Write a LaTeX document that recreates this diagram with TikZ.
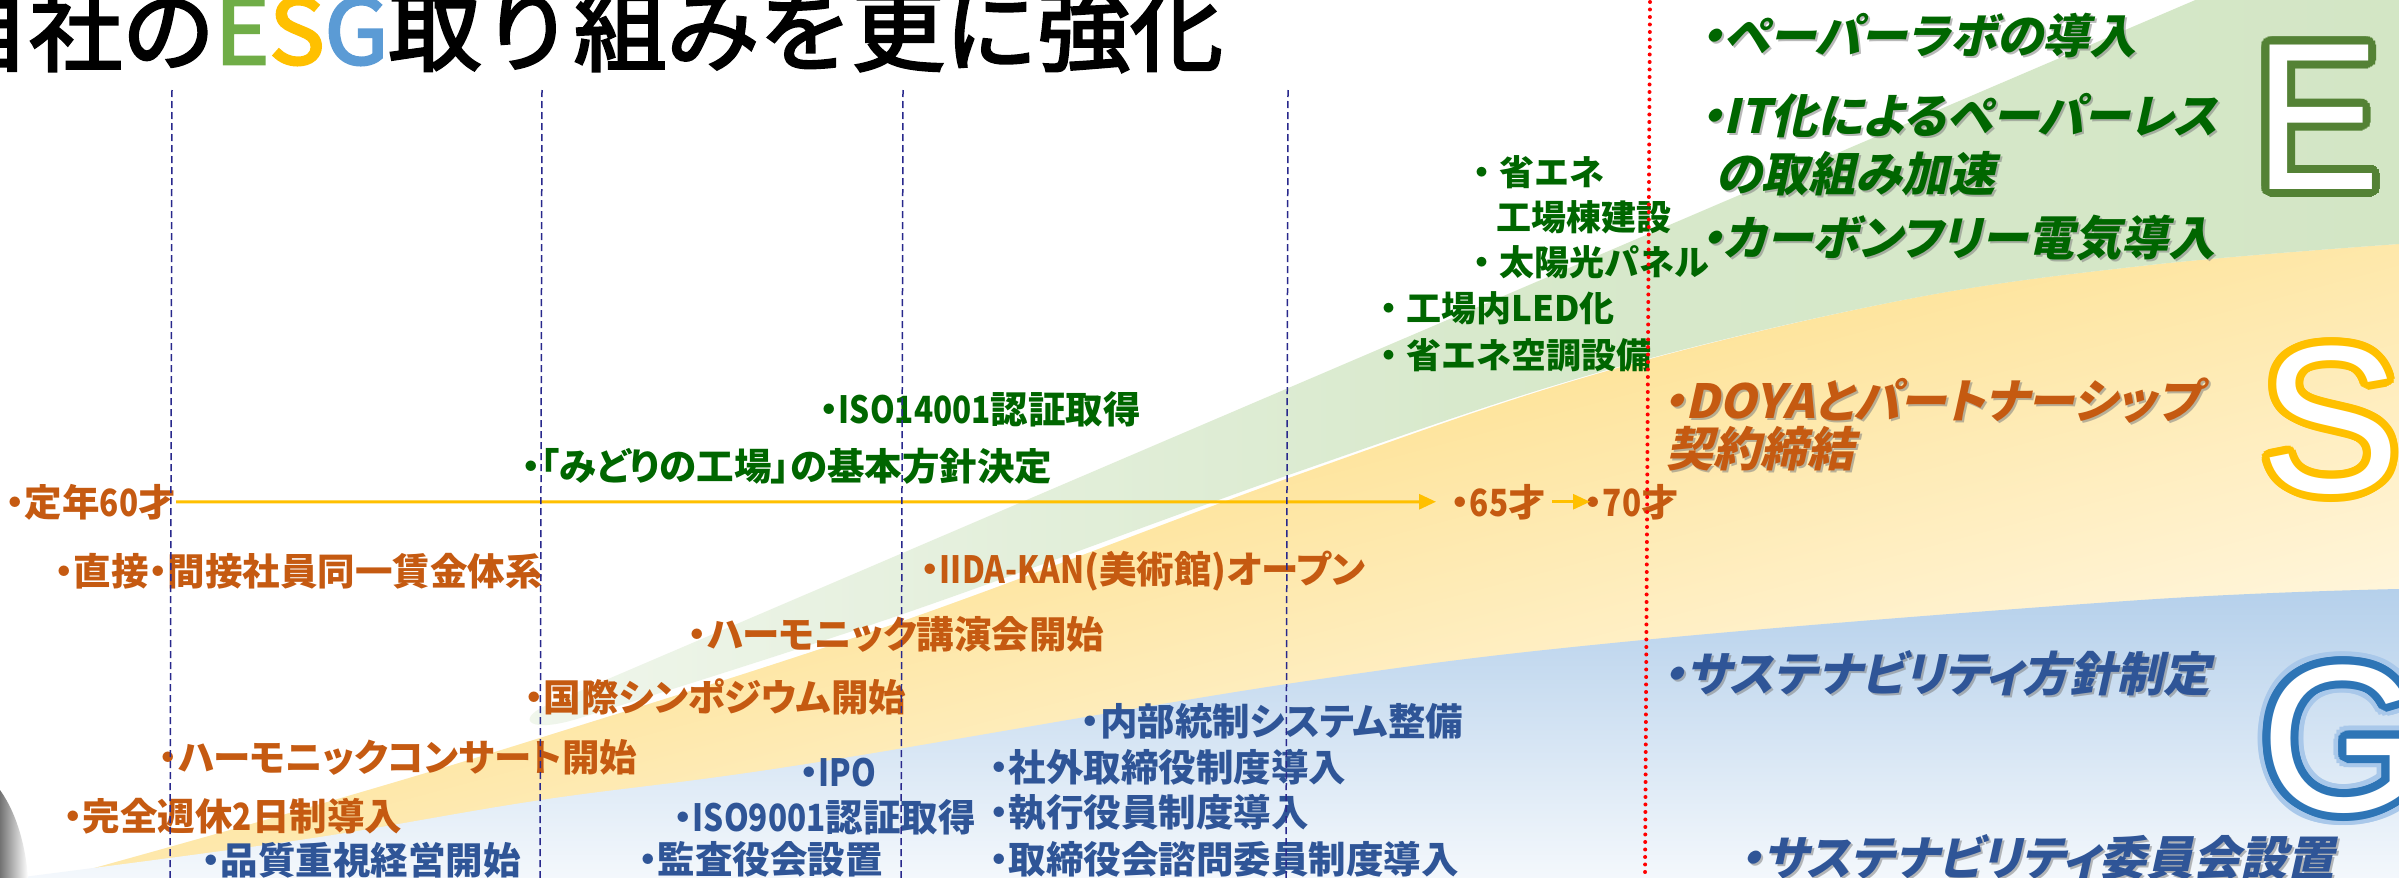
\documentclass[tikz,border=0pt]{standalone}
\usepackage{fontspec}
\setmainfont{Noto Sans CJK JP}
\newfontfamily\bodyfont{Noto Sans CJK JP}[RawFeature=+palt]
\newfontfamily\latfont{Noto Sans CJK JP}[FakeStretch=0.84]
\newfontfamily\clusterfont{Noto Sans CJK JP}
\newfontfamily\italfont{Noto Sans CJK JP}[FakeSlant=0.22,RawFeature=+palt]
\newfontfamily\titlefont{Noto Sans CJK JP}[FakeStretch=1.03,FakeBold=3]
\newfontfamily\letterfont{Liberation Sans}
\newfontfamily\letterEfont{Liberation Sans}[FakeStretch=0.9]
\newcommand\narrowlat[1]{{\latfont #1}}
\usetikzlibrary{arrows.meta}
\definecolor{orangeT}{HTML}{C55A11}
\definecolor{blueT}{HTML}{2F5597}
\definecolor{greenT}{HTML}{006600}
\definecolor{tE}{HTML}{70AD47}
\definecolor{tS}{HTML}{FFC000}
\definecolor{tG}{HTML}{5B9BD5}
\definecolor{ringE}{HTML}{548235}
\definecolor{ringS}{HTML}{FFC000}
\definecolor{ringG}{HTML}{2E75B6}
\definecolor{glowG}{HTML}{A9C8EA}
\definecolor{navyL}{HTML}{28288C}
\definecolor{arrowC}{HTML}{FFC000}
\definecolor{yelDark}{HTML}{FEE49C}
\definecolor{yelLight}{HTML}{FFF6DE}
\definecolor{grnLight}{HTML}{F0F6EC}
\definecolor{grnMid}{HTML}{D8E9CC}
\definecolor{grnDark}{HTML}{D3E6C5}
\definecolor{bluDark}{HTML}{B5D0EB}
\definecolor{bluLight}{HTML}{F4F8FC}
\newcommand\itnode[5]{%
  \node[ital, text=black!50, opacity=0.55, xshift=2pt, yshift=-2pt] (#1s) at (#2,#3) {#5};
  \node[ital, text=#4] (#1) at (#2,#3) {#5};}
\newcommand\outlineletter[7]{%
  \foreach \a in {0,15,...,345}{\node[letter, text=#4, font=#5, xshift={#7*cos(\a)}, yshift={#7*sin(\a)}] (#1r\a) at (#2,#3) {#6};}
  \node[letter, text=white, font=#5] (#1) at (#2,#3) {#6};}
\begin{document}
\begin{tikzpicture}[x=1pt,y=-1pt,
  txt/.style={inner sep=0pt, anchor=base west, font=\bodyfont\bfseries\fontsize{37.5}{40}\selectfont},
  org/.style={txt, text=orangeT},
  grn/.style={txt, text=greenT},
  blu/.style={txt, text=blueT},
  clus/.style={inner sep=0pt, anchor=base west, text=greenT, font=\clusterfont\bfseries\fontsize{35}{37}\selectfont},
  ital/.style={inner sep=0pt, anchor=base west, font=\italfont\bfseries\fontsize{47}{50}\selectfont},
  letter/.style={inner sep=0pt, anchor=base west},
  vline/.style={draw=navyL, line width=1.5pt, dash pattern=on 7pt off 4pt},
  redline/.style={draw=red, line width=4pt, line cap=round, dash pattern=on 0pt off 7.5pt},
  arr/.style={draw=arrowC, line width=3pt, -{Triangle[length=17pt,width=15pt]}},
  titlestyle/.style={inner sep=0pt, anchor=base east, font=\titlefont\fontsize{90}{96}\selectfont}
]
\useasboundingbox (0,0) rectangle (2399,878);
\fill[white] (0,0) rectangle (2399,878);

% yellow band
\begin{scope}
  \clip (60,878) -- plot[smooth,tension=0.6] coordinates {(80,872) (300,810) (540,738) (900,622) (1300,474) (1600,373) (1903,300) (2150,265) (2399,244)} -- (2399,878) -- cycle;
  \fill[yelLight] (0,0) rectangle (2399,878);
  \shade[transform canvas={rotate around={15:(1250,560)}}, top color=yelDark, bottom color=yelLight] (-400,460) rectangle (2900,910);
\end{scope}
% green band
\shade[left color=grnLight, right color=grnDark, middle color=grnMid]
  (2200,-2) -- (2401,-2) -- (2401,244) -- plot[smooth,tension=0.6] coordinates {(2399,244) (2150,265) (1903,300) (1600,372) (1300,471) (900,615) (580,718)}
  .. controls (530,734) and (515,720) .. (545,706) -- cycle;
% blue band
\shade[top color=bluDark, bottom color=bluLight]
  (0,880) -- plot[smooth,tension=0.6] coordinates {(0,880) (300,840) (541,800) (800,765) (1300,682) (1643,640) (2141,600) (2399,589)} -- (2401,589) -- (2401,880) -- cycle;
% grey corner
\shade[left color=black!55, right color=white] (0,790) .. controls (18,815) and (26,850) .. (28,878) -- (0,878) -- cycle;

% title
\node[titlestyle] (title) at (1223,64) {自社の\textcolor{tE}{E}\textcolor{tS}{S}\textcolor{tG}{G}取り組みを更に強化};

% orange items
\node[org] (teinen) at (6,516) {・定年\narrowlat{60}才};
\node[org] (chokusetsu) at (55,585) {・直接・間接社員同一賃金体系};
\node[org] (concert) at (159,771) {・ハーモニックコンサート開始};
\node[org] (shukyu) at (64,830) {・完全週休\narrowlat{2}日制導入};
\node[org] (symposium) at (525,711) {・国際シンポジウム開始};
\node[org] (lecture) at (688,648) {・ハーモニック講演会開始};
\node[org] (iidakan) at (921,583) {・\narrowlat{IIDA-KAN}(美術館)オープン};
\node[org] (n65) at (1451,516) {・\narrowlat{65}才};
\node[org] (n70) at (1584,516) {・\narrowlat{70}才};
% green items
\node[grn] (midori) at (522,480) {・「みどりの工場」の基本方針決定};
\node[grn] (iso14001) at (820,423) {・\narrowlat{ISO14001}認証取得};
% blue items
\node[blu] (hinshitsu) at (202,874) {・品質重視経営開始};
\node[blu] (iso9001) at (674,831) {・\narrowlat{ISO9001}認証取得};
\node[blu] (kansa) at (639,873) {・監査役会設置};
\node[blu] (ipo) at (800,786) {・\narrowlat{IPO}};
\node[blu] (naibu) at (1081,735) {・内部統制システム整備};
\node[blu] (shagai) at (990,781) {・社外取締役制度導入};
\node[blu] (shikko) at (990,826) {・執行役員制度導入};
\node[blu] (torishimari) at (990,873) {・取締役会諮問委員制度導入};
% green cluster
\node[clus] (shoene) at (1464,185) {・省エネ};
\node[clus] (kojo) at (1496,230) {工場棟建設};
\node[clus] (taiyo) at (1464,275) {・太陽光パネル};
\node[clus] (led) at (1371,321) {・工場内LED化};
\node[clus] (kucho) at (1371,368) {・省エネ空調設備};
% italic right
\itnode{paperlab}{1700}{53}{greenT}{・ペーパーラボの導入}
\itnode{itka}{1700}{133}{greenT}{・IT化によるペーパーレス}
\itnode{torikumi}{1715}{191}{greenT}{の取組み加速}
\itnode{carbon}{1700}{255}{greenT}{・カーボンフリー電気導入}
\itnode{doya}{1662}{418}{orangeT}{・DOYAとパートナーシップ}
\itnode{keiyaku}{1666}{466}{orangeT}{契約締結}
\itnode{hoshin}{1662}{691}{blueT}{・サステナビリティ方針制定}
\itnode{iinkai}{1739}{875}{blueT}{・サステナビリティ委員会設置}

% arrows
\draw[arr, shorten >=15pt] (teinen.east) -- (n65.west);
\draw[arr, shorten <=6pt, shorten >=-6pt] (n65.east) -- (n70.west);

% vertical lines
\coordinate (v1t) at (172,90); \coordinate (v1b) at (170,878);
\coordinate (v2t) at (542,90); \coordinate (v2b) at (540,878);
\coordinate (v3t) at (903,90); \coordinate (v3b) at (901,878);
\coordinate (v4t) at (1288,90); \coordinate (v4b) at (1286,878);
\draw[vline] (v1t) -- (v1b);
\draw[vline] (v2t) -- (v2b);
\draw[vline] (v3t) -- (v3b);
\draw[vline] (v4t) -- (v4b);
\coordinate (rt) at (1650,2); \coordinate (rb) at (1645,878);
\draw[redline] (rt) -- (rb);

% big letters
\outlineletter{bigE}{2254}{189}{ringE}{\letterEfont\fontsize{210}{220}\selectfont}{E}{8}
\outlineletter{bigS}{2260}{492}{ringS}{\letterfont\fontsize{210}{220}\selectfont}{S}{8}
\foreach \a in {0,20,...,340}{\node[letter, text=glowG, font=\letterfont\fontsize{210}{220}\selectfont, xshift={13*cos(\a)}, yshift={13*sin(\a)}] (bigGg\a) at (2260,811) {G};}
\outlineletter{bigG}{2260}{811}{ringG}{\letterfont\fontsize{210}{220}\selectfont}{G}{8}
\end{tikzpicture}
\end{document}
